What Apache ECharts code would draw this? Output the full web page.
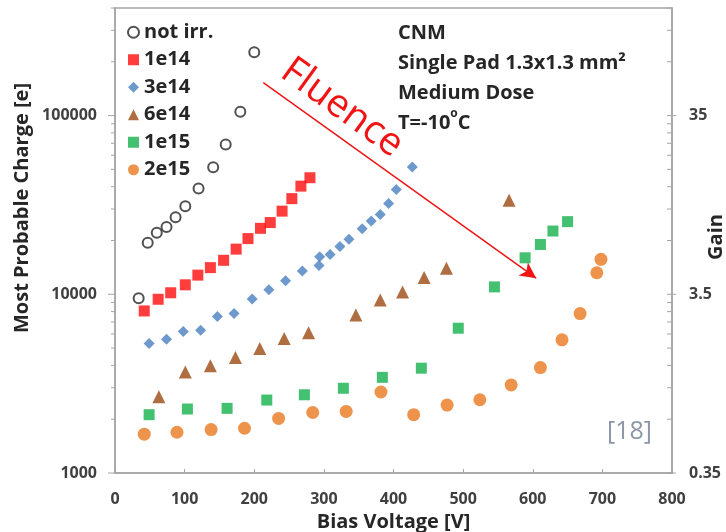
<!DOCTYPE html>
<html>
<head>
<meta charset="utf-8">
<script src="https://cdn.jsdelivr.net/npm/echarts@6/dist/echarts.min.js"></script>
<style>
  html, body { margin: 0; padding: 0; background: #fff; }
  #chart { width: 726px; height: 532px; }
</style>
</head>
<body>
<div id="chart"></div>
<script>
// bias voltage [V] and most probable charge [e] per fluence
const notIrrV = [34, 47, 60, 74, 87, 101, 120, 141, 159, 180, 200];
const notIrrQ = [9500, 19400, 22100, 23800, 27000, 31100, 39100, 51400, 68900, 105000, 226000];

const f1e14V = [42, 62, 80, 101, 119, 137, 156, 174, 191, 209, 223, 240, 254, 267, 280];
const f1e14Q = [8070, 9380, 10200, 11300, 12800, 14100, 15500, 17900, 20500, 23400, 25200, 29200, 34300, 40300, 44900];

const f3e14V = [49, 74, 98, 123, 147, 171, 197, 221, 245, 269, 293, 294, 309, 323, 336, 355, 368, 381, 393, 404, 427];
const f3e14Q = [5310, 5600, 6200, 6300, 7500, 7800, 9400, 10600, 11900, 13500, 14500, 16200, 16700, 18500, 20300, 23300, 25700, 28000, 32200, 38600, 51500];

const f6e14V = [63, 101, 137, 173, 208, 243, 278, 346, 381, 413, 444, 476, 566];
const f6e14Q = [2670, 3680, 3980, 4430, 4970, 5660, 6100, 7660, 9290, 10300, 12400, 14000, 33600];

const f1e15V = [49, 104, 161, 218, 272, 328, 384, 440, 493, 545, 589, 611, 629, 650];
const f1e15Q = [2120, 2280, 2300, 2560, 2740, 2980, 3430, 3860, 6460, 11000, 16000, 19000, 22600, 25500];

const f2e15V = [42, 89, 138, 186, 235, 284, 332, 382, 429, 477, 524, 569, 611, 642, 668, 692, 698];
const f2e15Q = [1650, 1690, 1750, 1780, 2020, 2180, 2210, 2840, 2120, 2400, 2570, 3110, 3890, 5560, 7800, 13200, 15700];

// log axis ticks
const majorTicks = [1000, 10000, 100000];
const minorTicks = [2000, 3000, 4000, 5000, 6000, 7000, 8000, 9000,
  20000, 30000, 40000, 50000, 60000, 70000, 80000, 90000,
  200000, 300000, 400000];

// gain = charge * 0.35 / 1000
const gainPerCharge = 0.35 / 1000;

// fluence arrow, data coords [V, e]
const arrowFrom = [213, 153000];
const arrowTo = [605, 12300];

const pairs = (xs, ys) => xs.map((x, i) => [x, ys[i]]);

const AXIS_GREY = '#a6a6a6';
const LABEL = { color: '#404040', fontFamily: 'Open Sans', fontWeight: 'bold', fontSize: 16 };
const TITLE = { color: '#262626', fontFamily: 'Open Sans', fontWeight: 'bold', fontSize: 20 };

const chart = echarts.init(document.getElementById('chart'));

const tickData = majorTicks.map(v => [0, v, 1]).concat(minorTicks.map(v => [0, v, 0]));

chart.setOption({
  animation: false,
  grid: {
    left: 115, right: 54, top: 8, bottom: 59,
    outerBoundsMode: 'none', containLabel: false,
    show: true, borderColor: AXIS_GREY, borderWidth: 1.5
  },
  legend: {
    data: ['not irr.', '1e14', '3e14', '6e14', '1e15', '2e15'],
    orient: 'vertical',
    left: 122,
    top: 16,
    itemWidth: 11,
    itemHeight: 11,
    itemGap: 5,
    textStyle: { color: '#262626', fontFamily: 'Open Sans', fontWeight: 'bold', fontSize: 20, lineHeight: 22.5 }
  },
  xAxis: {
    type: 'value',
    min: 0, max: 800, interval: 100,
    name: 'Bias Voltage [V]',
    nameLocation: 'middle',
    nameGap: 36,
    nameTextStyle: TITLE,
    axisLine: { lineStyle: { color: AXIS_GREY, width: 1.5 } },
    axisTick: { inside: true, length: 4, lineStyle: { color: AXIS_GREY } },
    axisLabel: Object.assign({ margin: 18 }, LABEL),
    splitLine: { show: false }
  },
  yAxis: [{
    type: 'log', logBase: 10,
    min: 1000, max: 400000,
    axisLine: { show: true, lineStyle: { color: AXIS_GREY, width: 1.5 } },
    axisTick: { show: false },
    axisLabel: Object.assign({ margin: 18, showMaxLabel: false, formatter: v => String(Math.round(v)) }, LABEL),
    splitLine: { show: false }
  }, {
    type: 'log', logBase: 10,
    min: 1000, max: 400000,
    position: 'right',
    axisLine: { show: true, lineStyle: { color: AXIS_GREY, width: 1.5 } },
    axisTick: { show: false },
    axisLabel: Object.assign({
      margin: 17, showMaxLabel: false,
      formatter: v => String(Number((v * gainPerCharge).toPrecision(2)))
    }, LABEL),
    splitLine: { show: false }
  }],
  graphic: [
    {
      type: 'text', x: 22, y: 208, rotation: Math.PI / 2,
      style: { text: 'Most Probable Charge [e]', fill: '#262626', font: 'bold 20px "Open Sans"', align: 'center', verticalAlign: 'middle' }
    },
    {
      type: 'text', x: 716, y: 237, rotation: Math.PI / 2,
      style: { text: 'Gain', fill: '#262626', font: 'bold 20px "Open Sans"', align: 'center', verticalAlign: 'middle' }
    },
    {
      type: 'text', left: 398, top: 18,
      style: {
        text: 'CNM\nSingle Pad 1.3x1.3 mm²\nMedium Dose\nT=-10{s|o}C',
        fill: '#262626', font: 'bold 20px "Open Sans"', lineHeight: 30,
        rich: { s: { fontSize: 12, fontWeight: 'bold', fontFamily: 'Open Sans', fill: '#262626', verticalAlign: 'top', padding: [0, 0, 9, 0] } }
      }
    },
    {
      type: 'text', x: 342, y: 108, rotation: -36 * Math.PI / 180,
      style: { text: 'Fluence', fill: '#f01414', font: '39px "Open Sans"', align: 'center', verticalAlign: 'middle' }
    },
    {
      type: 'text', left: 607, top: 419,
      style: { text: '[18]', fill: '#8c96a8', font: '25px "Open Sans"' }
    }
  ],
  series: [
    {
      type: 'custom', name: 'ticks', silent: true, clip: false, z: 1,
      data: tickData,
      renderItem: (params, api) => {
        const v = api.value(1);
        const major = api.value(2) === 1;
        const pl = api.coord([0, v]);
        const pr = api.coord([800, v]);
        const len = major ? 7 : 4;
        const st = { stroke: AXIS_GREY, lineWidth: 1 };
        return {
          type: 'group',
          children: [
            { type: 'line', shape: { x1: pl[0] - len, y1: pl[1], x2: pl[0], y2: pl[1] }, style: st },
            { type: 'line', shape: { x1: pr[0] - 5, y1: pr[1], x2: pr[0] + (major ? 4 : 0), y2: pr[1] }, style: st }
          ]
        };
      }
    },
    {
      name: 'not irr.', type: 'scatter', symbol: 'circle', symbolSize: 10,
      itemStyle: { color: '#ffffff', borderColor: '#262626', borderWidth: 2 },
      data: pairs(notIrrV, notIrrQ)
    },
    {
      name: '1e14', type: 'scatter', symbol: 'rect', symbolSize: 11,
      itemStyle: { color: '#ff0d0d' },
      data: pairs(f1e14V, f1e14Q)
    },
    {
      name: '3e14', type: 'scatter', symbol: 'diamond', symbolSize: 11,
      itemStyle: { color: '#4a7fc1' },
      data: pairs(f3e14V, f3e14Q)
    },
    {
      name: '6e14', type: 'scatter', symbol: 'triangle', symbolSize: 13,
      itemStyle: { color: '#9a4a12' },
      data: pairs(f6e14V, f6e14Q)
    },
    {
      name: '1e15', type: 'scatter', symbol: 'rect', symbolSize: 11,
      itemStyle: { color: '#14b04c' },
      data: pairs(f1e15V, f1e15Q)
    },
    {
      name: '2e15', type: 'scatter', symbol: 'circle', symbolSize: 13,
      itemStyle: { color: '#e8781e' },
      data: pairs(f2e15V, f2e15Q),
      markLine: {
        silent: true,
        symbol: ['none', 'arrow'],
        symbolSize: [12, 16],
        label: { show: false },
        lineStyle: { color: '#f01414', width: 1.5, type: 'solid' },
        data: [[{ coord: arrowFrom }, { coord: arrowTo }]]
      }
    }
  ]
});
</script>
</body>
</html>
